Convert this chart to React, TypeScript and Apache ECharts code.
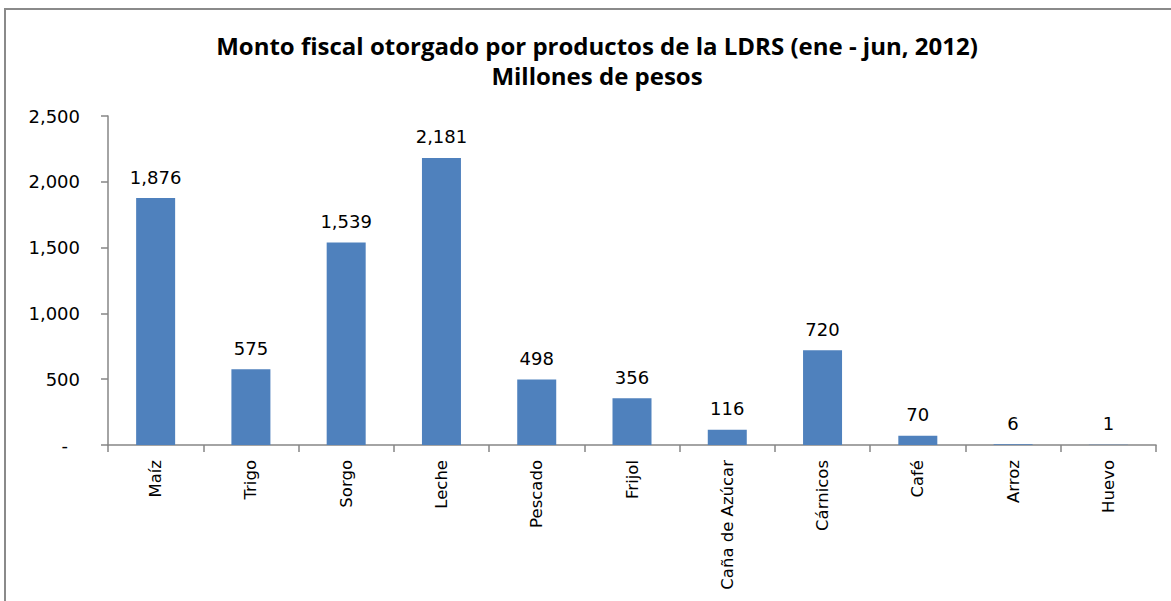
import React, { useEffect, useRef } from "react";
import * as echarts from "echarts";

const categories = ["Maíz", "Trigo", "Sorgo", "Leche", "Pescado", "Frijol", "Caña de Azúcar", "Cárnicos", "Café", "Arroz", "Huevo"];
const values = [1876, 575, 1539, 2181, 498, 356, 116, 720, 70, 6, 1];
const titleLines = ["Monto fiscal otorgado por productos de la LDRS (ene - jun, 2012)", "Millones de pesos"];

const fmt = (v: number) => v.toLocaleString("en-US");

export default function App() {
  const ref = useRef<HTMLDivElement>(null);
  useEffect(() => {
    const chart = echarts.init(ref.current!, null, { renderer: "svg" });
    chart.setOption({
      animation: false,
      backgroundColor: "#ffffff",
      title: {
        text: titleLines.join("\n"),
        left: 592,
        textAlign: "center",
        top: 25,
        textStyle: { fontFamily: "Open Sans", fontWeight: "bold", fontSize: 24, lineHeight: 30, color: "#000" },
      },
      graphic: [
        {
          type: "rect",
          shape: { x: 5, y: 9, width: 1200, height: 650 },
          style: { fill: "none", stroke: "#8a8a8a", lineWidth: 2 },
          silent: true,
        },
      ],
      grid: { left: 108, right: 15, top: 116, bottom: 156, containLabel: false },
      xAxis: {
        type: "category",
        data: categories,
        axisLine: { show: true, lineStyle: { color: "#868686", width: 1.5 } },
        axisTick: { show: true, alignWithLabel: false, length: 7, lineStyle: { color: "#868686", width: 1.5 } },
        axisLabel: { rotate: 90, margin: 15, fontFamily: "DejaVu Sans", fontSize: 16.5, color: "#000", interval: 0 },
      },
      yAxis: {
        type: "value",
        min: 0,
        max: 2500,
        interval: 500,
        splitLine: { show: false },
        axisLine: { show: true, lineStyle: { color: "#868686", width: 1.5 } },
        axisTick: { show: true, length: 7, lineStyle: { color: "#868686", width: 1.5 } },
        axisLabel: {
          margin: 28,
          fontFamily: "DejaVu Sans",
          fontSize: 18,
          color: "#000",
          formatter: (v: number) => (v === 0 ? "{d|-}" : fmt(v)),
          rich: { d: { padding: [0, 12, 0, 0], fontFamily: "DejaVu Sans", fontSize: 18, color: "#000" } },
        },
      },
      series: [
        {
          type: "bar",
          data: values,
          barWidth: 39,
          itemStyle: { color: "#4F81BD" },
          label: {
            show: true,
            position: "top",
            distance: 12,
            fontFamily: "DejaVu Sans",
            fontSize: 18,
            color: "#000",
            formatter: (p: any) => fmt(p.value),
          },
        },
      ],
    });
    return () => chart.dispose();
  }, []);
  return <div ref={ref} style={{ position: "fixed", left: 0, top: 0, width: 1171, height: 601 }} />;
}
